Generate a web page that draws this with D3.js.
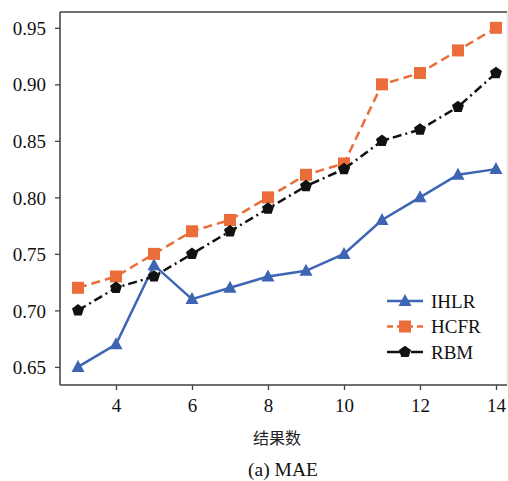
<!DOCTYPE html>
<html>
<head>
<meta charset="utf-8">
<script src="https://cdn.jsdelivr.net/npm/d3@7"></script>
<style>
body{margin:0;background:#fff;}
svg{display:block;}
</style>
</head>
<body>
<svg width="508" height="481"></svg>
<script>
var xVals = [3,4,5,6,7,8,9,10,11,12,13,14];
var ihlr = [0.65,0.67,0.74,0.71,0.72,0.73,0.735,0.75,0.78,0.80,0.82,0.825];
var hcfr = [0.72,0.73,0.75,0.77,0.78,0.80,0.82,0.83,0.90,0.91,0.93,0.95];
var rbm  = [0.70,0.72,0.73,0.75,0.77,0.79,0.81,0.825,0.85,0.86,0.88,0.91];
var xTicks = [4,6,8,10,12,14];
var yTicks = [0.65,0.70,0.75,0.80,0.85,0.90,0.95];
var seriesNames = ["IHLR","HCFR","RBM"];

var svg = d3.select("svg");
var L = 60, R = 507, T = 12, B = 385;
var serif = "Times New Roman, Liberation Serif, serif";

var x = d3.scaleLinear().domain([2.526, 14.29]).range([L, R]);
var y = d3.scaleLinear().domain([0.634, 0.964]).range([B, T]);

// frame
svg.append("rect").attr("x",L).attr("y",T).attr("width",R-L).attr("height",B-T)
  .style("fill","none").style("stroke","#ddd").style("stroke-width",1);
function linie(x1,y1,x2,y2,w){
  svg.append("line").attr("x1",x1).attr("y1",y1).attr("x2",x2).attr("y2",y2)
    .style("stroke","#444").style("stroke-width",w);
}
linie(L,T,R,T,1.5);
linie(L,T,L,B,1.5);
linie(L,B,R,B,1.5);

// axes
var xAxis = svg.append("g").attr("transform","translate(0,"+B+")")
  .call(d3.axisBottom(x).tickValues(xTicks).tickSize(5).tickPadding(6).tickFormat(d3.format("d")));
var yAxis = svg.append("g").attr("transform","translate("+L+",0)")
  .call(d3.axisLeft(y).tickValues(yTicks).tickSize(5).tickPadding(9).tickFormat(d3.format(".2f")));
[xAxis,yAxis].forEach(function(a){
  a.select(".domain").remove();
  a.attr("font-family",null).attr("font-size",null);
  a.selectAll(".tick line").style("stroke","#444").style("stroke-width",1.3);
  a.selectAll("text").style("font-family",serif).style("font-size","19px").style("fill","#111");
});
yAxis.selectAll("text").attr("dy","0.35em");
xAxis.selectAll("text").attr("dy","0.85em");

var line = d3.line().x(function(d,i){return x(xVals[i]);}).y(function(d){return y(d);});

var blue = "#3d65b3", orange = "#ea6d3a", black = "#111";

// marker shapes
function triangle(g,cx,cy,c){
  g.append("path").attr("d","M"+cx+","+(cy-7)+"L"+(cx+6.5)+","+(cy+5)+"L"+(cx-6.5)+","+(cy+5)+"Z")
    .style("fill",c);
}
function square(g,cx,cy,c){
  g.append("rect").attr("x",cx-6).attr("y",cy-6).attr("width",12).attr("height",12).style("fill",c);
}
function pentagon(g,cx,cy,c){
  var p = d3.range(5).map(function(k){
    var a = -Math.PI/2 + k*2*Math.PI/5;
    return [cx+6.3*Math.cos(a), cy+6.3*Math.sin(a)];
  });
  g.append("path").attr("d","M"+p.join("L")+"Z").style("fill",c);
}

var series = [
  {name:seriesNames[0], data:ihlr, color:blue, dash:null, mark:triangle},
  {name:seriesNames[1], data:hcfr, color:orange, dash:"9,5", mark:square},
  {name:seriesNames[2], data:rbm, color:black, dash:"9,4,2,4", mark:pentagon}
];

series.forEach(function(s){
  svg.append("path").datum(s.data).attr("d",line)
    .style("fill","none").style("stroke",s.color).style("stroke-width",2.5)
    .style("stroke-dasharray",s.dash);
  var g = svg.append("g");
  s.data.forEach(function(v,i){ s.mark(g,x(xVals[i]),y(v),s.color); });
});

// legend
series.forEach(function(s,i){
  var ly = 301 + i*25.5;
  svg.append("line").attr("x1",387).attr("y1",ly).attr("x2",423).attr("y2",ly)
    .style("stroke",s.color).style("stroke-width",2.5).style("stroke-dasharray",s.dash ? (i==1?"6,4":"14,4,2,4") : null);
  s.mark(svg,405,ly,s.color);
  svg.append("text").attr("x",431).attr("y",ly).attr("dy","0.35em")
    .style("font-family",serif).style("font-size","19px").style("fill","#111")
    .text(s.name);
});

// labels
svg.append("text").attr("x",277).attr("y",444).attr("text-anchor","middle")
  .style("font-family","'Noto Sans CJK SC',sans-serif").style("font-size","16px").style("fill","#222")
  .text("结果数");
svg.append("text").attr("x",283).attr("y",476).attr("text-anchor","middle")
  .style("font-family",serif).style("font-size","19.5px").style("fill","#111")
  .text("(a) MAE");
</script>
</body>
</html>
